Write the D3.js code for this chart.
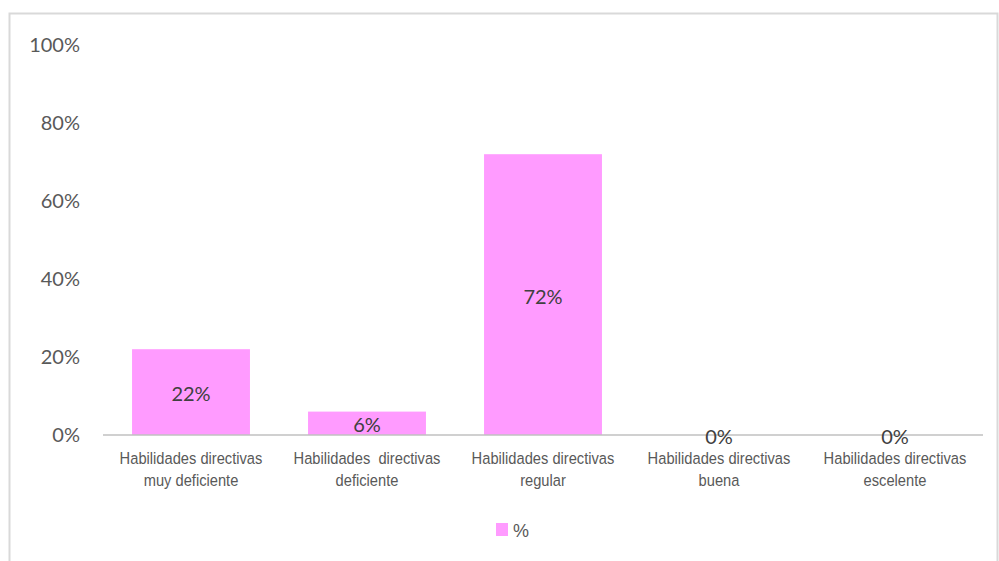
<!DOCTYPE html>
<html>
<head>
<meta charset="utf-8">
<script src="https://cdn.jsdelivr.net/npm/d3@7"></script>
<style>
  html, body { margin: 0; padding: 0; background: #fff; }
  svg { display: block; }
</style>
</head>
<body>
<svg id="chart" width="999" height="561"></svg>
<script>
// Categories (each split in two label lines) and their percentages
const categories = [
  ["Habilidades directivas", "muy deficiente"],
  ["Habilidades  directivas", "deficiente"],
  ["Habilidades directivas", "regular"],
  ["Habilidades directivas", "buena"],
  ["Habilidades directivas", "escelente"]
];
const values = [0.22, 0.06, 0.72, 0, 0];
const yTicks = [0, 0.2, 0.4, 0.6, 0.8, 1.0];
const seriesName = "%";

const svg = d3.select("#chart");
const barColor = "#ff9bff";

// Outer frame of the chart area
svg.append("rect")
  .attr("x", 9.5).attr("y", 13.5)
  .attr("width", 988).attr("height", 560)
  .attr("fill", "none")
  .attr("stroke", "#d9d9d9")
  .attr("stroke-width", 2);

const plot = { left: 103, right: 983, top: 45, bottom: 435 };

const x = d3.scaleBand()
  .domain(d3.range(categories.length))
  .range([plot.left, plot.right])
  .paddingInner(0.33)
  .paddingOuter(0.165);

const y = d3.scaleLinear()
  .domain([0, 1])
  .range([plot.bottom, plot.top]);

// Y axis labels (no axis line, no gridlines)
const yAxis = d3.axisLeft(y)
  .tickValues(yTicks)
  .tickFormat(d3.format(".0%"))
  .tickSize(0)
  .tickPadding(0);

const yg = svg.append("g")
  .attr("transform", "translate(80,0)")
  .call(yAxis);
yg.select(".domain").remove();
yg.selectAll("text")
  .attr("font-family", "Lato, 'Noto Sans', sans-serif")
  .attr("font-size", 20)
  .attr("fill", "#595959");

// Bars
svg.append("g").selectAll("rect")
  .data(values)
  .join("rect")
  .attr("x", (d, i) => x(i))
  .attr("width", x.bandwidth())
  .attr("y", d => y(d))
  .attr("height", d => y(0) - y(d))
  .attr("fill", barColor);

// Baseline
svg.append("line")
  .attr("x1", plot.left).attr("x2", plot.right)
  .attr("y1", y(0)).attr("y2", y(0))
  .attr("stroke", "#c0c0c0")
  .attr("stroke-width", 1.5);

// Value labels centred in each bar
svg.append("g").selectAll("text")
  .data(values)
  .join("text")
  .attr("x", (d, i) => x(i) + x.bandwidth() / 2)
  .attr("y", d => (y(d) + y(0)) / 2 + 2)
  .attr("dy", "0.35em")
  .attr("text-anchor", "middle")
  .attr("font-family", "Lato, 'Noto Sans', sans-serif")
  .attr("font-size", 20)
  .attr("fill", "#404040")
  .text(d => d3.format(".0%")(d));

// Category labels, two lines each, slightly condensed
const cat = svg.append("g").selectAll("g")
  .data(categories)
  .join("g")
  .attr("transform", (d, i) => `translate(${x(i) + x.bandwidth() / 2},0) scale(0.89,1)`);

cat.each(function(lines) {
  const g = d3.select(this);
  lines.forEach((line, k) => {
    g.append("text")
      .attr("x", 0)
      .attr("y", 464 + k * 22)
      .attr("text-anchor", "middle")
      .attr("font-family", "'Liberation Sans', Arial, sans-serif")
      .attr("font-size", 16.5)
      .attr("fill", "#595959")
      .style("white-space", "pre")
      .text(line);
  });
});

// Legend
const legend = svg.append("g").attr("transform", "translate(496,523)");
legend.append("rect")
  .attr("width", 12).attr("height", 13)
  .attr("fill", barColor);
legend.append("text")
  .attr("x", 17).attr("y", 14)
  .attr("font-family", "'Liberation Sans', Arial, sans-serif")
  .attr("font-size", 18)
  .attr("fill", "#595959")
  .text(seriesName);
</script>
</body>
</html>
